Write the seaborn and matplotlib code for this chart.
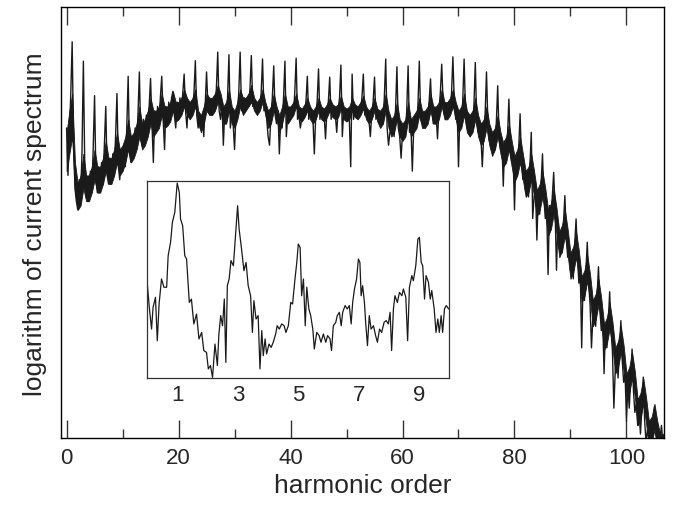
import numpy as np
import pandas as pd
import matplotlib
matplotlib.use("Agg")
import matplotlib.pyplot as plt
import seaborn as sns

# ---- data ----
# main spectrum: sampled every 0.25 harmonic, one row per two harmonics
# (x = 2k, 2k+.25, ..., 2k+1 (odd harmonic peak), ..., 2k+1.75)
step = 0.25
spectrum = [
    72, 61, 70, 80, 92, 68, 58, 55,
    53, 60, 56, 66, 87.5, 63, 56, 58,
    55, 62, 57, 67, 79.5, 60, 57, 63,
    58, 64, 59, 68, 77, 61, 59, 65,
    60, 66, 61, 70, 80, 63, 60, 67,
    62, 68, 63, 72, 84, 66, 64, 70,
    66, 72, 67, 75, 85, 70, 68, 74,
    70, 75, 71, 77, 83.5, 73, 64, 76,
    72, 77, 73, 79, 84, 74, 67, 77,
    73, 78, 74, 79, 80.5, 75, 72, 78,
    75, 79, 76, 80, 84.5, 76, 72, 78,
    75, 78, 76, 80, 87.6, 75, 72, 74,
    72, 75, 70, 77, 85, 77, 76, 78,
    76, 79, 77, 81, 89.6, 76, 74, 78,
    68, 76, 74, 79, 89, 72, 75, 73,
    67, 75, 76, 80, 89.6, 76, 78, 79,
    77, 79, 77, 81, 88.8, 77, 78, 77,
    76, 78, 77, 80, 88, 76, 77, 74,
    70, 68, 75, 79, 86.4, 75, 73, 76,
    66, 74, 72, 79, 87.5, 70, 75, 76,
    76, 77, 75, 80, 88.2, 74, 75, 72,
    74, 76, 75, 78, 84, 74, 76, 75,
    74, 66, 75, 78, 85.7, 74, 76, 75,
    75, 69.5, 76, 78, 83.8, 74, 76, 75,
    75, 71, 76, 79, 86.6, 70, 76, 75,
    75, 76, 74, 63, 84.5, 74, 76, 75,
    76, 77, 76, 79, 84.5, 75, 76, 75,
    74, 70, 75, 78, 83.8, 74, 75, 74,
    73, 74, 73, 79, 88, 72, 68, 71,
    71, 73, 70, 76, 86.2, 72, 70, 65,
    71, 73, 70, 76, 86.4, 71, 73, 62,
    72, 74, 72, 77, 87.5, 74, 73, 75,
    73, 76, 74, 78, 83.4, 76, 73, 76,
    75, 69.5, 76, 80, 86.8, 78, 75, 77,
    75, 78, 76, 80, 88.5, 78, 74, 77,
    63, 76, 73, 78, 88, 76, 72, 75,
    72, 75, 71, 77, 87.2, 74, 71, 73,
    70, 63, 70, 75, 85, 73, 69, 71,
    68, 71, 67, 73, 81.8, 70, 67, 69,
    58.5, 69, 65, 70, 78.7, 68, 64, 66,
    53, 65, 61, 67, 75.3, 64, 60, 62,
    57, 61, 56, 63, 71, 51, 56, 58,
    46, 57, 52, 59, 66, 56, 51, 53,
    38, 54, 49, 56, 61.7, 53, 39, 50,
    44, 48, 43, 50, 56.3, 47, 42, 45,
    39, 43, 37, 45, 50.9, 42, 36, 39,
    21, 37, 32, 39, 45.5, 36, 31, 21,
    28, 31, 26, 33, 39.8, 30, 25, 28,
    15, 26, 21, 27, 34, 25, 20, 7,
    16, 20, 14, 21, 27.3, 18, 13, 15,
    4, 12, 7, 14, 20.7, 11, 6, 8,
    3, 6, 1, 7, 14.2, 4, -1, 2,
    0, 2, -1, 3, 7.3, 1, -1, 1,
    0, 3, -1, 1,
]
harmonic = np.arange(len(spectrum)) * step

# dense noise band under the spikes: lower / upper edge every 0.5 harmonic
band_step = 0.5
band_lo = [
    62, 66, 70, 57,  53, 54, 58, 55,  55, 57, 60, 57,  57, 59, 62, 59,
    59, 61, 64, 61,  62, 64, 67, 64,  65, 67, 70, 67,  68, 70, 73, 70,
    71, 72, 75, 72,  72.5, 73.5, 76, 73.5,  74, 75, 77, 75,  74, 75, 77, 73,
    71, 73, 76, 75,  75, 76, 78, 76,  73, 73, 76, 73,  72, 74, 77, 75,
    76, 77, 78, 76,  75, 76, 78, 75,  72, 73, 76, 74,  71, 73, 76, 73,
    74, 75, 77, 74,  73.5, 74.5, 76, 74,  73, 74, 76, 74,  73.5, 74.5, 76, 74.5,
    74, 74.5, 76.5, 74,  73.5, 74, 76, 74.5,  74, 75, 76.5, 74,  73, 74, 76, 73.5,
    72, 73, 76, 72,  70, 71, 74, 70,  69, 70, 74, 70,  71, 72, 75, 72,
    72, 73, 76, 73,  73, 74, 77, 74,  74, 75, 77, 74,  71, 72, 75, 71,
    70, 71, 74, 70,  68, 69, 72, 68,  65.5, 67, 70, 66,  63, 64, 67, 63,
    59.5, 61, 64, 60,  56, 57, 60, 56,  51.5, 53, 56, 52,  47, 48.5, 52, 47.5,
    42, 43.5, 47, 42.5,  37, 38.5, 42, 37.5,  31.5, 33, 36.5, 32,  26, 27.5, 31, 26.5,
    20.5, 22, 25.5, 21,  15, 16.5, 20, 15.5,  9, 10.5, 14, 9.5,  3, 4.5, 8, 3.5,
    -2, -1, 2, -2,  -3, -3,
]
band_hi = [
    71, 76, 80, 64,  59, 61, 66, 61,  61, 63, 67, 63,  63, 65, 69, 65,
    65, 67, 71, 67,  68, 70, 74, 70,  71, 73, 77, 73,  74, 76, 79, 76,
    76, 77, 80, 77,  77, 78, 80.5, 78,  78, 79, 81, 79,  78, 79, 81, 76,
    75, 77, 80, 79,  79, 80, 82, 80,  77, 78, 81, 77,  76, 78, 81, 79,
    79, 80, 82, 79,  78, 79, 81, 78,  76, 77, 80, 77,  75, 77, 80, 77,
    77, 78, 80, 77,  76.5, 77.5, 79, 77,  76, 77, 79, 77,  76.5, 77.5, 79, 77.5,
    77, 77.5, 79.5, 77,  76.5, 77, 79, 77.5,  77, 78, 79.5, 77,  76, 77, 79, 76.5,
    76, 77, 80, 76,  74, 75, 78, 74,  73, 74, 78, 74,  75, 76, 79, 76,
    76, 77, 80, 77,  77, 78, 81, 78,  78, 79, 81, 78,  76, 77, 80, 76,
    75, 76, 79, 75,  73, 74, 77, 73,  71, 72, 75, 71,  68.5, 70, 73, 69,
    65.5, 67, 70, 66,  62, 63, 66, 62,  57.5, 59, 62, 58,  53, 54.5, 58, 53.5,
    48, 49.5, 53, 48.5,  43, 44.5, 48, 43.5,  37.5, 39, 42.5, 38,  32, 33.5, 37, 32.5,
    26.5, 28, 31.5, 27,  21, 22.5, 26, 21.5,  15, 16.5, 20, 15.5,  9, 10.5, 14, 9.5,
    4, 5, 8, 4,  1, 1,
]
band_x = np.arange(len(band_lo)) * band_step

# inset: first ten harmonics
inset_x = [0, 0.06, 0.14, 0.19, 0.27, 0.33, 0.39, 0.47, 0.55, 0.64,
           0.69, 0.77, 0.83, 0.91, 0.99, 1.06, 1.1, 1.17, 1.24, 1.3,
           1.39, 1.46, 1.54, 1.63, 1.71, 1.8, 1.87, 1.96, 2.02, 2.09,
           2.16, 2.24, 2.32, 2.37, 2.43, 2.49, 2.55, 2.6, 2.65, 2.71,
           2.77, 2.85, 2.92, 2.99, 3.04, 3.12, 3.2, 3.27, 3.34, 3.42,
           3.48, 3.53, 3.6, 3.67, 3.73, 3.79, 3.84, 3.9, 3.95, 4.03,
           4.1, 4.17, 4.25, 4.3, 4.37, 4.45, 4.53, 4.59, 4.67, 4.75,
           4.81, 4.89, 4.95, 5.0, 5.06, 5.11, 5.17, 5.23, 5.28, 5.35,
           5.41, 5.48, 5.53, 5.61, 5.69, 5.75, 5.83, 5.91, 5.97, 6.05,
           6.1, 6.16, 6.24, 6.29, 6.36, 6.42, 6.47, 6.55, 6.62, 6.69,
           6.75, 6.8, 6.86, 6.93, 6.99, 7.04, 7.08, 7.13, 7.19, 7.23,
           7.29, 7.35, 7.41, 7.49, 7.56, 7.62, 7.69, 7.76, 7.84, 7.91,
           7.98, 8.04, 8.09, 8.15, 8.2, 8.28, 8.35, 8.43, 8.48, 8.56,
           8.62, 8.68, 8.76, 8.81, 8.89, 8.96, 9.01, 9.07, 9.12, 9.18,
           9.23, 9.31, 9.37, 9.42, 9.5, 9.56, 9.62, 9.67, 9.73, 9.78,
           9.84, 9.9, 9.98]
inset_y = [47.6, 36.7, 24.8, 35.8, 40.9, 18.9, 37.5, 50.2, 46, 46,
           62, 68.8, 78.9, 84, 98.8, 94, 80.6, 77.2, 62, 60.3,
           38.3, 40, 27.4, 32.4, 19.8, 23.1, 13.9, 13, 4.6, 6.3,
           0.3, 17.2, 6.3, 22.3, 31.6, 26.5, 40, 7.9, 46.8, 50.2,
           59.5, 56.9, 72.1, 87.3, 75.5, 65.4, 54.4, 58.6, 46.8, 41.7,
           23.1, 39.2, 29.9, 31.6, 4.6, 24, 11.3, 19.8, 12.2, 17.2,
           15.5, 18.1, 22.3, 26.5, 24.8, 27.4, 26.5, 23.1, 26.5, 38.3,
           37.5, 50.2, 58.6, 67.9, 66.2, 41.7, 50.2, 26.5, 46, 35,
           31.6, 24.8, 14.7, 23.1, 21.5, 18.1, 22.3, 18.1, 21.5, 19.8,
           13.9, 26.5, 28.2, 31.6, 33.3, 26.5, 33.3, 36.7, 35, 36.7,
           27.4, 38.3, 45.1, 50.2, 60.3, 58.6, 41.7, 46.8, 38.3, 28.2,
           16.4, 31.6, 24.8, 26.5, 21.5, 18.1, 24.8, 23.1, 28.2, 29.1,
           27.4, 33.3, 13.9, 35, 41.7, 38.3, 43.4, 41.7, 45.1, 40.9,
           18.9, 46, 51.9, 49.3, 56.9, 70.4, 71.3, 58.6, 56.9, 40,
           51.9, 48.5, 40, 44.3, 35, 23.1, 29.9, 23.1, 31.6, 23.1,
           35, 36.7, 35]

main_ticks = [0, 20, 40, 60, 80, 100]
minor_ticks = [10, 30, 50, 70, 90]
inset_ticks = [1, 3, 5, 7, 9]

main_df = pd.DataFrame({"harmonic": harmonic, "logS": spectrum})
inset_df = pd.DataFrame({"harmonic": inset_x, "logS": inset_y})

sns.set_style("white")
plt.rcParams['font.family'] = ['Liberation Sans', 'DejaVu Sans']
ink = "#1a1a1a"

fig = plt.figure(figsize=(6.73, 5.06), dpi=100)
ax = fig.add_axes([0.0906, 0.1318, 0.896, 0.8518])
ax.fill_between(band_x, band_lo, band_hi, color=ink, linewidth=0.6,
                edgecolor=ink)
sns.lineplot(data=main_df, x="harmonic", y="logS", ax=ax, color=ink,
             linewidth=1.0, sort=False, estimator=None)
ax.set_xlim(-1.0, 106.7)
ax.set_ylim(0, 100)
ax.set_xticks(main_ticks)
ax.set_xticks(minor_ticks, minor=True)
ax.set_yticks([])
ax.tick_params(axis='x', which='major', direction='in', length=13, width=1,
               top=True, bottom=True, labelsize=16, pad=6, color='#333333')
ax.tick_params(axis='x', which='minor', direction='in', length=6.5, width=1,
               top=True, bottom=True, color='#333333')
ax.set_xlabel("harmonic order", fontsize=19, labelpad=4)
ax.set_ylabel("logarithm of current spectrum", fontsize=19, labelpad=10)
for s in ax.spines.values():
    s.set_color('black')
    s.set_linewidth(1.0)

# inset
ins = fig.add_axes([0.2189, 0.251, 0.4487, 0.3899])
ins.set_facecolor('white')
sns.lineplot(data=inset_df, x="harmonic", y="logS", ax=ins, color=ink,
             linewidth=0.9, sort=False, estimator=None)
ins.set_xlim(0, 10)
ins.set_ylim(0, 100)
ins.set_xticks(inset_ticks)
ins.set_yticks([])
ins.tick_params(axis='x', direction='in', length=12, width=1, labelsize=16,
                pad=4, color='#333333')
ins.set_xlabel("")
ins.set_ylabel("")
for s in ins.spines.values():
    s.set_color('#333333')
    s.set_linewidth(0.9)

fig.savefig("out.png", dpi=100)
